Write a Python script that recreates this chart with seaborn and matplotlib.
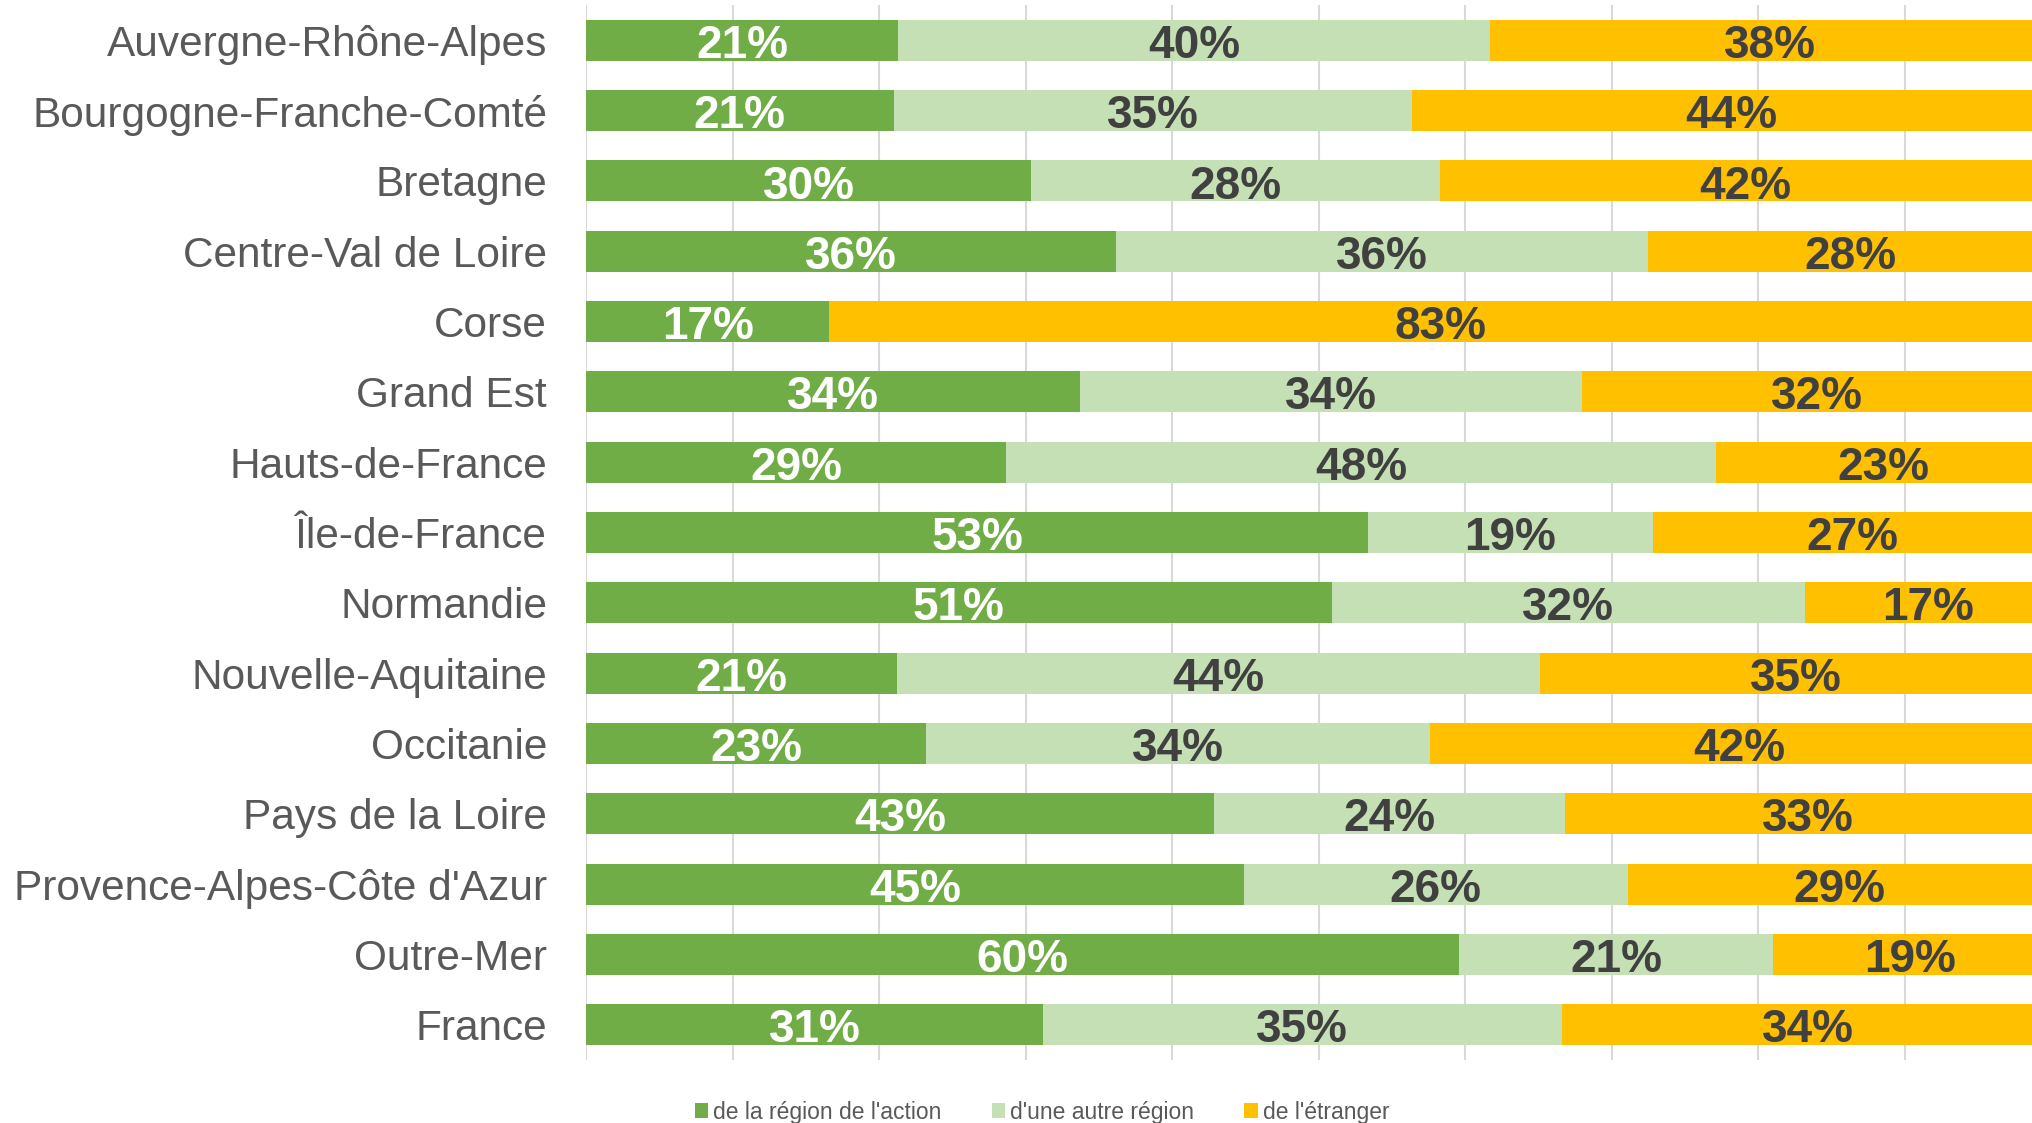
import matplotlib
matplotlib.use("Agg")
import matplotlib.pyplot as plt
from matplotlib.patches import Patch
import numpy as np
import pandas as pd
import seaborn as sns

regions = ["Auvergne-Rhône-Alpes", "Bourgogne-Franche-Comté", "Bretagne",
           "Centre-Val de Loire", "Corse", "Grand Est", "Hauts-de-France",
           "Île-de-France", "Normandie", "Nouvelle-Aquitaine", "Occitanie",
           "Pays de la Loire", "Provence-Alpes-Côte d'Azur", "Outre-Mer", "France"]
# share of participants (%) by origin
region_action = [21.3, 21.0, 30.4, 36.2, 16.6, 33.7, 28.7, 53.4, 50.9, 21.2, 23.2, 42.9, 44.9, 59.6, 31.2]
autre_region = [40.4, 35.4, 27.9, 36.3, 0.0, 34.3, 48.4, 19.4, 32.3, 43.9, 34.4, 23.9, 26.2, 21.4, 35.4]
etranger = [38.3, 43.6, 41.7, 27.6, 83.4, 32.0, 22.9, 27.3, 16.8, 35.0, 42.3, 33.2, 28.9, 18.8, 33.6]
series_names = ["de la région de l'action", "d'une autre région", "de l'étranger"]
colors = ["#70AD47", "#C5E0B4", "#FFC000"]
label_colors = ["white", "#404040", "#404040"]

df = pd.DataFrame({"region": regions, "s1": region_action, "s2": autre_region, "s3": etranger})
df["c1"] = df["s1"]
df["c2"] = df["s1"] + df["s2"]
df["c3"] = df["c2"] + df["s3"]

sns.set_style("white")
plt.rcParams["font.family"] = ["Liberation Sans", "DejaVu Sans"]

fig = plt.figure(figsize=(20.33, 11.23), dpi=100)
ax = fig.add_axes([586 / 2033, 0.0561, 1465 / 2033, 0.9394])

# stacked bars: draw cumulative totals from largest to smallest
for col, color in zip(["c3", "c2", "c1"], colors[::-1]):
    sns.barplot(data=df, x=col, y="region", orient="h", color=color,
                saturation=1, width=0.58, linewidth=0, ax=ax)

# value labels
for i, row in df.iterrows():
    starts = [0, row["c1"], row["c2"]]
    for k, key in enumerate(["s1", "s2", "s3"]):
        v = row[key]
        if v <= 0:
            continue
        ax.text(starts[k] + v / 2, i + 0.08, f"{v:.0f}%", ha="center", va="center",
                fontsize=33, fontweight="bold", color=label_colors[k])

ax.set_xlim(0, 100)
ax.set_ylim(len(regions) - 0.5, -0.5)
ax.set_xticks(np.arange(0, 101, 10))
ax.set_xticklabels([])
ax.xaxis.grid(True, color="#D9D9D9", linewidth=1.5)
ax.set_axisbelow(True)
ax.tick_params(axis="y", length=0, pad=28, labelsize=30.5, labelcolor="#595959")
ax.tick_params(axis="x", length=0)
ax.set_xlabel("")
ax.set_ylabel("")
for s in ax.spines.values():
    s.set_visible(False)

handles = [Patch(facecolor=c, edgecolor="none") for c in colors]
fig.legend(handles, series_names, loc="center", bbox_to_anchor=(1042 / 2033, 1 - 1112 / 1123),
           ncol=3, frameon=False, fontsize=16.5, labelcolor="#595959",
           handlelength=0.6, handleheight=0.6, handletextpad=0.2, columnspacing=2.2)

fig.savefig("out.png", dpi=100)
